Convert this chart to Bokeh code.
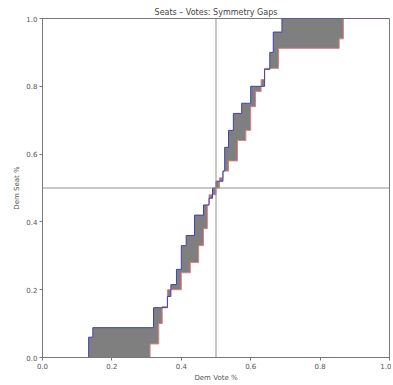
from bokeh.plotting import figure
from bokeh.embed import file_html
from bokeh.resources import INLINE
from bokeh.models import Span, FixedTicker, CustomJSTickFormatter

# Seats-votes curve (step function): vote share at which seat share jumps, and new seat share
vote_steps = [0.133, 0.145, 0.32, 0.36, 0.37, 0.386, 0.40, 0.414, 0.438, 0.464, 0.48, 0.49, 0.50,
              0.52, 0.525, 0.536, 0.55, 0.574, 0.60, 0.64, 0.655, 0.665, 0.69]
seat_steps = [0.06, 0.088, 0.147, 0.18, 0.215, 0.26, 0.33, 0.36, 0.42, 0.45, 0.47, 0.50, 0.52,
              0.55, 0.62, 0.67, 0.72, 0.75, 0.80, 0.85, 0.90, 0.96, 1.00]
tick_values = [0.0, 0.2, 0.4, 0.6, 0.8, 1.0]

# Build the seats-votes step path
bx, by = [0.0], [0.0]
for v, s in zip(vote_steps, seat_steps):
    bx += [v, v]
    by += [by[-1], s]
bx.append(1.0)
by.append(1.0)

# Symmetric reflection through (0.5, 0.5)
rx = [1 - x for x in reversed(bx)]
ry = [1 - y for y in reversed(by)]

p = figure(width=391, height=384, output_backend="svg", toolbar_location=None,
           x_range=(0, 1), y_range=(0, 1), title="Seats – Votes: Symmetry Gaps",
           min_border_left=42, min_border_right=2, min_border_top=18, min_border_bottom=26)

p.patch(bx + list(reversed(rx)), by + list(reversed(ry)), fill_color="#7f7f7f", line_color=None)
p.line(rx, ry, line_color="#d98080", line_width=1)
p.line(bx, by, line_color="#4040b0", line_width=1)

p.add_layout(Span(location=0.5, dimension="height", line_color="#909090", line_width=1))
p.add_layout(Span(location=0.5, dimension="width", line_color="#909090", line_width=1))

p.xgrid.visible = False
p.ygrid.visible = False
p.outline_line_color = "#777777"
p.title.align = "center"
p.title.text_font = "DejaVu Sans"
p.title.text_font_size = "8px"
p.title.text_font_style = "normal"
p.title.text_color = "#444444"
p.title.standoff = 3

for ax in (p.xaxis[0], p.yaxis[0]):
    ax.ticker = FixedTicker(ticks=tick_values)
    ax.formatter = CustomJSTickFormatter(code="return tick.toFixed(1);")
    ax.major_label_text_font = "DejaVu Sans"
    ax.major_label_text_font_size = "7px"
    ax.major_label_text_color = "#555555"
    ax.axis_label_text_font = "DejaVu Sans"
    ax.axis_label_text_font_size = "7px"
    ax.axis_label_text_font_style = "normal"
    ax.axis_label_text_color = "#555555"
    ax.axis_line_color = "#777777"
    ax.major_tick_line_color = "#777777"
    ax.major_tick_out = 3
    ax.major_tick_in = 0
    ax.minor_tick_line_color = None
    ax.axis_label_standoff = 2
    ax.major_label_standoff = 2

p.xaxis.axis_label = "Dem Vote %"
p.yaxis.axis_label = "Dem Seat %"

open("out.html", "w").write(file_html(p, INLINE))
